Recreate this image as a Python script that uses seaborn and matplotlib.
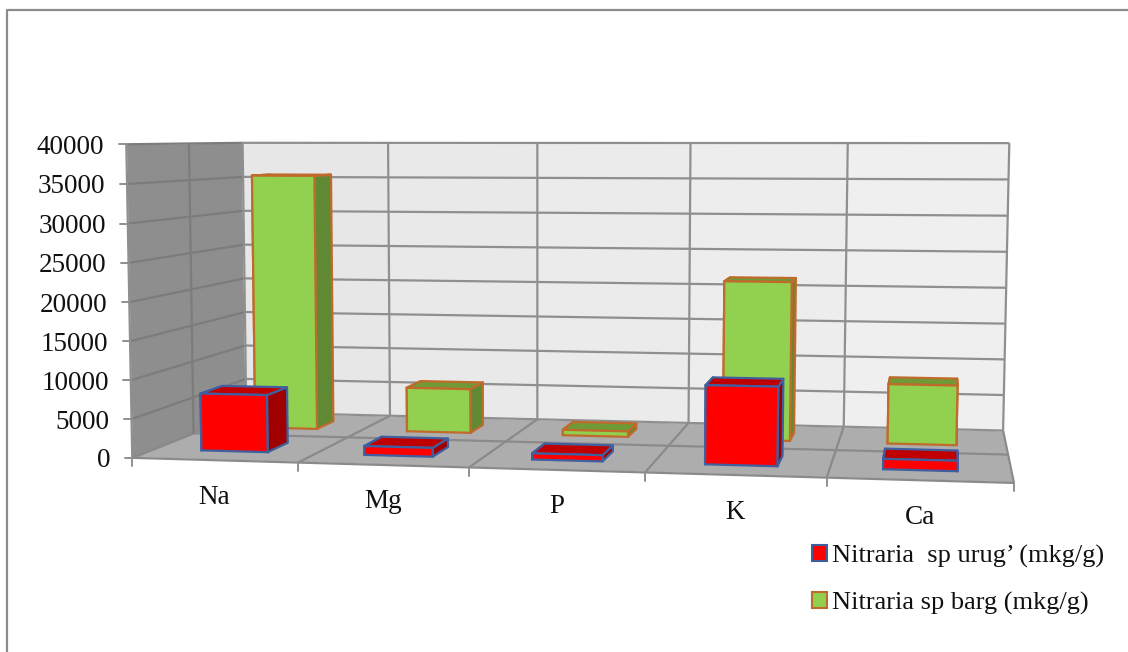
import numpy as np
import pandas as pd
import matplotlib
matplotlib.use("Agg")
import matplotlib.pyplot as plt
import matplotlib.transforms as mtransforms
from matplotlib.patches import Patch, Polygon
import seaborn as sns

# Element concentrations, mkg/g
elements = ["Na", "Mg", "P", "K", "Ca"]
seed_values = [7500, 1150, 800, 10000, 1300]
leaf_values = [35500, 6100, 750, 21500, 8000]
seed_label = "Nitraria  sp urug\u2019 (mkg/g)"
leaf_label = "Nitraria sp barg (mkg/g)"
value_ticks = [0, 5000, 10000, 15000, 20000, 25000, 30000, 35000, 40000]

W, H = 1128, 652
Y_MAX = 40000

sns.set_theme(style="white")
plt.rcParams["font.family"] = ["Liberation Serif", "DejaVu Serif"]

fig = plt.figure(figsize=(W / 100, H / 100), dpi=100, facecolor="white")
ax = fig.add_axes([0, 0, 1, 1])

frame = pd.DataFrame({
    "element": elements * 2,
    "value": leaf_values + seed_values,
    "series": [leaf_label] * 5 + [seed_label] * 5,
})
sns.barplot(data=frame, x="element", y="value", hue="series",
            hue_order=[leaf_label, seed_label], dodge=False, width=0.41,
            palette=["#92D050", "#FF0000"], saturation=1, legend=False, ax=ax)
ax.set_xlim(0, 1)
ax.set_ylim(0, 1)
ax.set_axis_off()

# Camera of the perspective box: (category, value, depth) -> canvas pixels,
# solved from the corners and grid crossings of the box.
camera_pairs = [
    ((0, 40000, 0), (126, 144)), ((0, 20000, 0), (129, 302)), ((0, 0, 0), (132.5, 457.7)),
    ((0, 40000, 1), (243, 143)), ((0, 20000, 1), (244.5, 278)), ((0, 0, 1), (246, 413)),
    ((5, 40000, 1), (1009, 143)), ((5, 20000, 1), (1006, 288.3)), ((5, 0, 1), (1004, 430)),
    ((5, 0, 0), (1014, 483)),
    ((1, 0, 0), (299, 462.6)), ((2, 0, 0), (469.5, 467)), ((3, 0, 0), (645, 473)), ((4, 0, 0), (825.7, 478)),
    ((1, 40000, 1), (388, 143)), ((2, 40000, 1), (537, 143)), ((3, 40000, 1), (691, 143)), ((4, 40000, 1), (848, 143)),
    ((1, 0, 1), (390, 415)), ((2, 0, 1), (536.7, 420)), ((3, 0, 1), (688, 423)), ((4, 0, 1), (844, 426)),
]


def solve_camera(pairs):
    rows = []
    for (cx, cy, cz), (px, py) in pairs:
        v = [cx / 5, cy / Y_MAX, cz, 1]
        rows.append(v + [0, 0, 0, 0] + [-px / W * a for a in v])
        rows.append([0, 0, 0, 0] + v + [-py / H * a for a in v])
    return np.linalg.svd(np.array(rows))[2][-1].reshape(3, 4)


CAMERA = solve_camera(camera_pairs)


def project(cx, cy, cz):
    cx, cy, cz = np.broadcast_arrays(cx, cy, cz)
    world = np.stack([cx / 5, cy / Y_MAX, cz, np.ones_like(cx, dtype=float)], axis=-1)
    img = world @ CAMERA.T
    return np.stack([img[..., 0] / img[..., 2] * W, img[..., 1] / img[..., 2] * H], axis=-1)


# Canvas pixels (origin top left) to display space
canvas = mtransforms.Affine2D().scale(1 / 100, -1 / 100).translate(0, H / 100) + fig.dpi_scale_trans


class DepthPlane(mtransforms.Transform):
    """Maps (category index, value) on a plane of constant depth to the display."""
    input_dims = 2
    output_dims = 2

    def __init__(self, plane_depth):
        super().__init__()
        self.plane_depth = plane_depth

    def transform_non_affine(self, values):
        values = np.asarray(values, dtype=float)
        return canvas.transform(project(values[:, 0] + 0.5, values[:, 1], self.plane_depth))


def face(points, color, zorder, **kw):
    pts = project(*np.array(points, dtype=float).T)
    ax.add_patch(Polygon(pts, closed=True, facecolor=color, transform=canvas, zorder=zorder, **kw))


def line(a, b, color, lw=1.6, zorder=2):
    pts = project(*np.array([a, b], dtype=float).T)
    ax.plot(pts[:, 0], pts[:, 1], color=color, lw=lw, transform=canvas, zorder=zorder,
            solid_capstyle="butt")


# Walls and floor
face([(0, 0, 0), (0, 40000, 0), (0, 40000, 1), (0, 0, 1)], "#8E8E8E", 1)
face([(0, 0, 0), (5, 0, 0), (5, 0, 1), (0, 0, 1)], "#ADADAD", 1)
for i, shade in enumerate(["#E7E7E7", "#E9E9E9", "#EBEBEB", "#EDEDED", "#EFEFEF"]):
    face([(i, 0, 1), (i + 1, 0, 1), (i + 1, 40000, 1), (i, 40000, 1)], shade, 1)

# Grid on the walls and floor
for v in value_ticks:
    line((0, v, 1), (5, v, 1), "#8F8F8F")
    line((0, v, 0), (0, v, 1), "#7C7C7C")
for c in range(6):
    line((c, 0, 1), (c, 40000, 1), "#8F8F8F")
    line((c, 0, 0), (c, 0, 1), "#8A8A8A")
line((0, 0, 0.5), (5, 0, 0.5), "#8A8A8A")
line((0, 0, 0.5), (0, 40000, 0.5), "#7C7C7C")
line((0, 0, 0), (0, 40000, 0), "#8F8F8F")
line((0, 0, 0), (5, 0, 0), "#8A8A8A")

# Axis ticks and labels
for v in value_ticks:
    x, y = project(0, v, 0)
    ax.plot([x - 7.5, x], [y, y], color="#8F8F8F", lw=1.4, transform=canvas, zorder=2)
    ax.text(x - 22, y, f"{v}", ha="right", va="center_baseline", fontsize=19.5,
            color="#111111", transform=canvas)
for c in range(6):
    x, y = project(c, 0, 0)
    ax.plot([x, x], [y, y + 8.5], color="#8F8F8F", lw=1.4, transform=canvas, zorder=2)
for i, name in enumerate(elements):
    x, y = project(i + 0.5, 0, 0)
    ax.text(x, y + 34, name, ha="center", va="center_baseline", fontsize=19.5,
            color="#111111", transform=canvas)

# Bars: seaborn's rectangles become the front faces, sides and tops are added behind them
styles = [
    dict(depth=(0.66, 0.84), edge="#C06A2C", side="#5F8A33", top="#6F9A35", z=10),
    dict(depth=(0.17, 0.36), edge="#3F5F9F", side="#A00000", top="#C00000", z=30),
]
for container, st in zip(ax.containers, styles):
    z0, z1 = st["depth"]
    front = DepthPlane(z0)
    for n, rect in enumerate(container):
        x0 = rect.get_x() + 0.5
        x1 = x0 + rect.get_width()
        v = rect.get_height()
        kw = dict(edgecolor=st["edge"], linewidth=1.6, joinstyle="round")
        base = st["z"] + n * 0.01
        face([(x0, 0, z0), (x0, 0, z1), (x0, v, z1), (x0, v, z0)], st["side"], base, **kw)
        face([(x1, 0, z0), (x1, 0, z1), (x1, v, z1), (x1, v, z0)], st["side"], base, **kw)
        face([(x0, v, z0), (x1, v, z0), (x1, v, z1), (x0, v, z1)], st["top"], base + 0.001, **kw)
        rect.set_transform(front)
        rect.set_edgecolor(st["edge"])
        rect.set_linewidth(1.6)
        rect.set_zorder(base + 0.002)
        rect.set_clip_on(False)

# Legend
handles = [Patch(facecolor="#FF0000", edgecolor="#3F5F9F", linewidth=1.5),
           Patch(facecolor="#92D050", edgecolor="#C06A2C", linewidth=1.5)]
fig.legend(handles, [seed_label, leaf_label], loc="upper left",
           bbox_to_anchor=(812 / W, 1 - 545 / H), frameon=False, fontsize=19,
           handlelength=0.57, handleheight=0.57, handletextpad=0.2, labelspacing=0.9,
           borderpad=0, borderaxespad=0, labelcolor="#111111")

# Slide frame
ax.plot([6.5, 6.5, W], [H, 9.5, 9.5], color="#8C8C8C", lw=1.6, transform=canvas, zorder=1)

fig.savefig("out.png", dpi=100, facecolor="white")
